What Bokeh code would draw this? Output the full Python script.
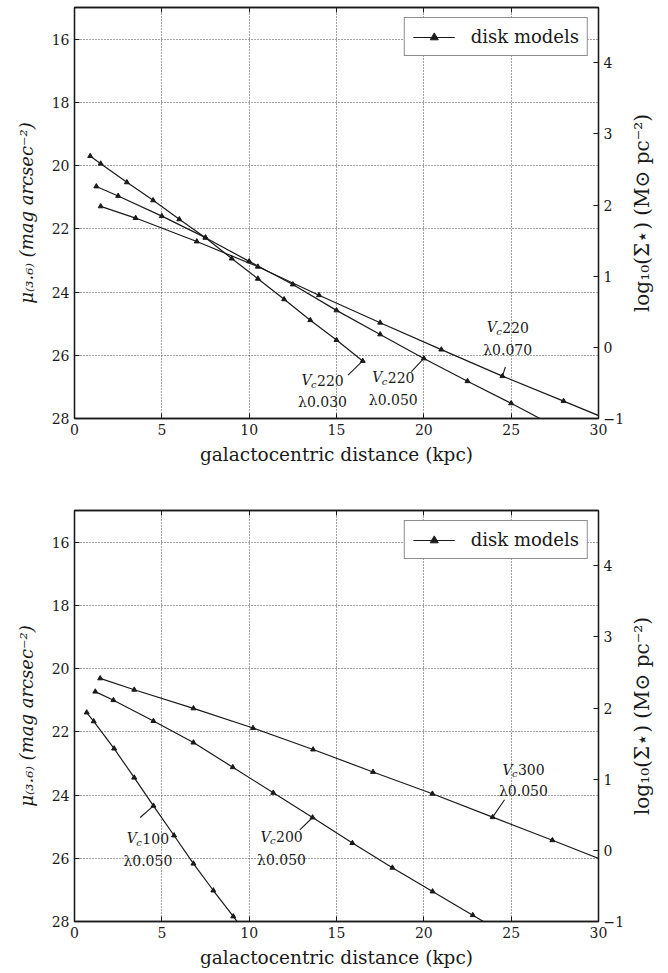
import math
from bokeh.plotting import figure
from bokeh.models import Range1d, LinearAxis, Legend, LegendItem, FixedTicker
from bokeh.layouts import column, row
from bokeh.core.properties import value
from bokeh.embed import file_html
from bokeh.resources import INLINE

# ---------------- data ----------------
X_TICKS = [0, 5, 10, 15, 20, 25, 30]
MU_TICKS = [16, 18, 20, 22, 24, 26, 28]
SD_TICKS = [-1, 0, 1, 2, 3, 4]
MU_TOP, MU_BOTTOM = 15, 28
SD_BOTTOM = -1
MAG_PER_DEX = 2.25

# top panel: Vc=220, three spin parameters
R_L030 = [0.9, 1.5, 3.0, 4.5, 6.0, 7.5, 9.0, 10.5, 12.0, 13.5, 15.0, 16.5]
MU_L030 = [19.70, 19.94, 20.53, 21.10, 21.70, 22.28, 22.94, 23.58, 24.23, 24.89, 25.52, 26.18]
R_L050 = [1.25, 2.5, 5.0, 7.5, 10.0, 12.5, 15.0, 17.5, 20.0, 22.5, 25.0, 27.5]
MU_L050 = [20.66, 20.96, 21.60, 22.28, 23.03, 23.76, 24.58, 25.34, 26.10, 26.82, 27.52, 28.25]
R_L070 = [1.5, 3.5, 7.0, 10.5, 14.0, 17.5, 21.0, 24.5, 28.0, 31.5]
MU_L070 = [21.29, 21.66, 22.40, 23.20, 24.10, 24.97, 25.82, 26.66, 27.45, 28.25]

# bottom panel: lambda=0.050, three circular velocities
R_V100 = [0.7, 1.1, 2.27, 3.42, 4.52, 5.7, 6.81, 7.95, 9.09, 10.26]
MU_V100 = [21.39, 21.67, 22.53, 23.45, 24.34, 25.28, 26.17, 27.02, 27.84, 28.70]
R_V200 = [1.19, 2.23, 4.52, 6.81, 9.06, 11.38, 13.63, 15.91, 18.2, 20.5, 22.8, 25.1]
MU_V200 = [20.73, 21.00, 21.66, 22.34, 23.12, 23.93, 24.71, 25.52, 26.30, 27.05, 27.80, 28.55]
R_V300 = [1.47, 3.42, 6.81, 10.22, 13.66, 17.09, 20.49, 23.94, 27.36, 30.8]
MU_V300 = [20.31, 20.67, 21.26, 21.88, 22.56, 23.27, 23.96, 24.70, 25.43, 26.18]

# annotations: (vc text, lambda text, label x, y line1, y line2, leader from, leader to)
TOP_LABELS = [
    ("220", "λ0.030", 14.2, 26.79, 27.48, (16.5, 26.18), (15.66, 26.63)),
    ("220", "λ0.050", 18.25, 26.70, 27.40, (20.0, 26.10), (19.29, 26.52)),
    ("220", "λ0.070", 24.8, 25.12, 25.82, (24.5, 26.66), (24.67, 26.37)),
]
BOTTOM_LABELS = [
    ("100", "λ0.050", 4.2, 25.37, 26.09, (4.52, 24.34), (3.76, 24.71)),
    ("200", "λ0.050", 11.85, 25.32, 26.04, (13.63, 24.71), (12.9, 25.10)),
    ("300", "λ0.050", 25.7, 23.20, 23.86, (23.94, 24.70), (24.62, 24.15)),
]
RIGHT_TITLE = "log₁₀(Σ⋆) (M⊙ pc⁻²)"

SERIF = "DejaVu Serif"
INK = "#1a1a1a"


def style_axis(ax):
    ax.axis_line_color = INK
    ax.axis_line_width = 1.3
    ax.major_tick_in = 5
    ax.major_tick_out = 0
    ax.major_tick_line_color = INK
    ax.minor_tick_line_color = None
    ax.major_label_text_font = SERIF
    ax.major_label_text_font_size = "14px"
    ax.major_label_text_color = INK
    ax.major_label_standoff = 5
    ax.axis_label_text_font = SERIF
    ax.axis_label_text_font_size = "18.5px"
    ax.axis_label_text_font_style = "normal"
    ax.axis_label_text_color = INK


def panel(height, btop, bbottom, series, labels):
    p = figure(width=627, height=height, output_backend="svg", toolbar_location=None,
               x_range=Range1d(0, 30), y_range=Range1d(MU_BOTTOM, MU_TOP),
               min_border_left=74, min_border_right=28,
               min_border_top=btop, min_border_bottom=bbottom)
    p.outline_line_color = INK
    p.outline_line_width = 1.3
    p.background_fill_color = "white"
    p.border_fill_color = "white"

    p.xaxis.ticker = FixedTicker(ticks=X_TICKS)
    p.yaxis.ticker = FixedTicker(ticks=MU_TICKS)
    p.xgrid.ticker = FixedTicker(ticks=X_TICKS)
    p.ygrid.ticker = FixedTicker(ticks=MU_TICKS)
    for g in (p.xgrid, p.ygrid):
        g.grid_line_color = "#444444"
        g.grid_line_dash = "1 2"
        g.grid_line_width = 1

    style_axis(p.xaxis[0])
    style_axis(p.yaxis[0])
    p.xaxis.axis_label = "galactocentric distance (kpc)"
    p.xaxis.axis_label_standoff = 6
    p.yaxis.axis_label = "μ₍₃.₆₎ (mag arcsec⁻²)"
    p.yaxis.axis_label_text_font_style = "italic"
    p.yaxis.axis_label_text_font_size = "18px"
    p.yaxis.axis_label_standoff = 12

    sd_top = SD_BOTTOM + (MU_BOTTOM - MU_TOP) / MAG_PER_DEX
    p.extra_y_ranges = {"sd": Range1d(SD_BOTTOM, sd_top)}
    right = LinearAxis(y_range_name="sd", ticker=FixedTicker(ticks=SD_TICKS))
    style_axis(right)
    right.major_label_overrides = {-1: "−1"}
    p.add_layout(right, "right")

    top = LinearAxis(ticker=FixedTicker(ticks=X_TICKS))
    style_axis(top)
    top.major_label_text_font_size = "0px"
    top.major_label_overrides = {t: "" for t in X_TICKS}
    top.major_label_standoff = 0
    p.add_layout(top, "above")

    first = None
    for xs, ys in series:
        rl = p.line(xs, ys, line_color=INK, line_width=1.2)
        rs = p.scatter(xs, ys, marker="triangle", size=5, fill_color=INK, line_color=INK)
        if first is None:
            first = [rl, rs]

    for num, lam, lx, ly1, ly2, (x0, y0), (x1, y1) in labels:
        p.segment(x0=[x0], y0=[y0], x1=[x1], y1=[y1], line_color=INK, line_width=1.1)
        p.text(x=[lx], y=[ly1], text=["V"], x_offset=-21, text_align="left", text_baseline="middle",
               text_font=value(SERIF), text_font_style="italic", text_font_size="14px", text_color=INK)
        p.text(x=[lx], y=[ly1], text=["c"], x_offset=-11.5, y_offset=4, text_align="left", text_baseline="middle",
               text_font=value(SERIF), text_font_style="italic", text_font_size="10px", text_color=INK)
        p.text(x=[lx], y=[ly1], text=[num], x_offset=-5.5, text_align="left", text_baseline="middle",
               text_font=value(SERIF), text_font_size="14px", text_color=INK)
        p.text(x=[lx], y=[ly2], text=[lam], text_align="center", text_baseline="middle",
               text_font=value(SERIF), text_font_size="14px", text_color=INK)

    leg = Legend(items=[LegendItem(label="disk models", renderers=first)], location="top_right")
    leg.label_text_font = SERIF
    leg.label_text_font_size = "18px"
    leg.label_text_color = INK
    leg.glyph_width = 42
    leg.glyph_height = 20
    leg.label_height = 20
    leg.label_standoff = 16
    leg.padding = 8
    leg.margin = 10
    leg.spacing = 0
    leg.border_line_color = INK
    leg.border_line_width = 1
    leg.background_fill_alpha = 1
    p.add_layout(leg)

    # strip at the right holding the secondary-axis title (reads bottom to top)
    s = figure(width=41, height=height, output_backend="svg", toolbar_location=None,
               x_range=Range1d(0, 1), y_range=Range1d(MU_BOTTOM, MU_TOP),
               x_axis_type=None, y_axis_type=None,
               min_border_left=0, min_border_right=0,
               min_border_top=btop, min_border_bottom=bbottom)
    s.outline_line_color = None
    s.xgrid.visible = False
    s.ygrid.visible = False
    s.text(x=[0.36], y=[(MU_TOP + MU_BOTTOM) / 2], text=[RIGHT_TITLE], angle=math.pi / 2,
           text_align="center", text_baseline="middle",
           text_font=value(SERIF), text_font_size="20px", text_color=INK)
    return row(p, s, spacing=0)


p1 = panel(503, 7, 85,
           [(R_L030, MU_L030), (R_L050, MU_L050), (R_L070, MU_L070)], TOP_LABELS)
p2 = panel(470, 7, 52,
           [(R_V100, MU_V100), (R_V200, MU_V200), (R_V300, MU_V300)], BOTTOM_LABELS)

layout = column(p1, p2, spacing=0)
open("out.html", "w").write(file_html(layout, INLINE))
